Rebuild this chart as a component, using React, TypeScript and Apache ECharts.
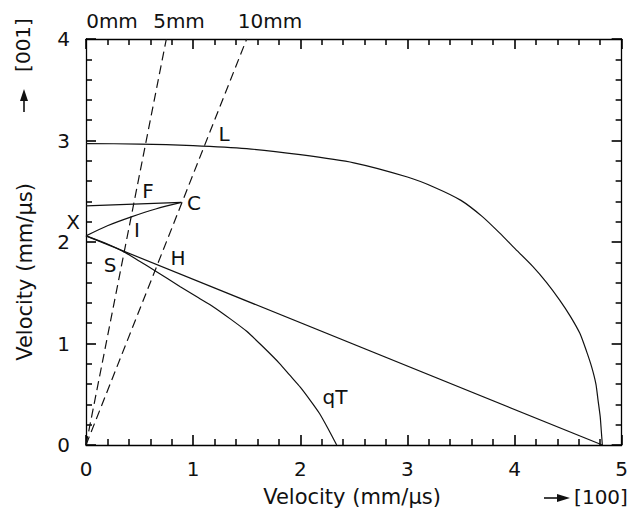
import React, { useEffect, useRef } from "react";
import * as echarts from "echarts";

const xTicks = [0, 1, 2, 3, 4, 5];
const yTicks = [0, 1, 2, 3, 4];

const curveL: [number, number][] = [
  [0, 2.97], [0.5, 2.965], [1.0, 2.95], [1.5, 2.92], [2.0, 2.86], [2.5, 2.78],
  [3.0, 2.64], [3.25, 2.54], [3.5, 2.41], [3.7, 2.25], [3.86, 2.09], [4.0, 1.94],
  [4.17, 1.76], [4.3, 1.6], [4.42, 1.43], [4.52, 1.27], [4.61, 1.1], [4.67, 0.93],
  [4.72, 0.77], [4.76, 0.6], [4.78, 0.44], [4.8, 0.28], [4.81, 0.14], [4.82, 0],
];
const lineTop: [number, number][] = [[0, 2.355], [0.89, 2.39]];
const curveXC: [number, number][] = [[0, 2.06], [0.2, 2.16], [0.43, 2.25], [0.65, 2.325], [0.89, 2.39]];
const lineXL: [number, number][] = [[0, 2.06], [4.82, 0]];
const curveQT: [number, number][] = [
  [0, 2.06], [0.2, 1.98], [0.36, 1.9], [0.5, 1.81], [0.64, 1.72], [0.88, 1.56],
  [1.05, 1.45], [1.19, 1.36], [1.35, 1.24], [1.5, 1.12], [1.65, 0.97], [1.81, 0.8],
  [1.9, 0.69], [2.0, 0.57], [2.1, 0.43], [2.18, 0.31], [2.26, 0.16], [2.34, 0],
];
const dash5: [number, number][] = [[0, 0], [0.75, 4]];
const dash10: [number, number][] = [[0, 0], [1.5, 4]];

const FONT = "DejaVu Sans";
const INK = "#000";

export default function App() {
  const ref = useRef<HTMLDivElement>(null);
  useEffect(() => {
    if (!ref.current) return;
    document.body.style.margin = "0";
    const chart = echarts.init(ref.current, undefined, { renderer: "svg" });
    const mk = () => ({
      min: 0,
      interval: 1,
      axisLine: { show: true, onZero: false, lineStyle: { color: INK, width: 1.3 } },
      axisTick: { show: true, inside: true, length: 10, lineStyle: { color: INK, width: 1.6 } },
      minorTick: { show: true, splitNumber: 5, length: 6, lineStyle: { color: INK, width: 1.5 } },
      splitLine: { show: false },
    });
    const lbl = (list: number[], margin: number) => ({
      color: "#111",
      fontFamily: FONT,
      fontSize: 20,
      margin,
      formatter: (v: number) => (list.includes(v) ? String(v) : ""),
    });
    const lineSeries = (data: [number, number][], smooth: number | boolean, dashed = false) => ({
      type: "line",
      data,
      smooth,
      showSymbol: false,
      lineStyle: { color: "#111", width: 1.2, type: dashed ? [9, 5] : "solid" },
    });
    const txt = (text: string, x: number, y: number, size = 20, rotation = 0) => ({
      type: "text",
      x,
      y,
      rotation,
      silent: true,
      style: {
        text,
        fill: "#111",
        font: `${size}px "${FONT}"`,
        align: "center",
        verticalAlign: "middle",
      },
    });
    chart.setOption({
      animation: false,
      grid: { left: 86, right: 9, top: 39, bottom: 76 },
      xAxis: [
        { ...mk(), type: "value", max: 5, position: "bottom", axisLabel: lbl(xTicks, 14) },
        { ...mk(), type: "value", max: 5, position: "top", axisLabel: { show: false } },
      ],
      yAxis: [
        { ...mk(), type: "value", max: 4, position: "left", axisLabel: lbl(yTicks, 16) },
        { ...mk(), type: "value", max: 4, position: "right", axisLabel: { show: false } },
      ],
      series: [
        lineSeries(curveL, 0.2),
        lineSeries(lineTop, false),
        lineSeries(curveXC, 0.3),
        lineSeries(lineXL, false),
        lineSeries(curveQT, 0.2),
        lineSeries(dash5, false, true),
        lineSeries(dash10, false, true),
      ],
      graphic: [
        txt("0mm", 112, 21),
        txt("5mm", 179, 21),
        txt("10mm", 270, 21),
        txt("L", 224, 134),
        txt("F", 148, 191),
        txt("C", 194, 203),
        txt("X", 73, 222),
        txt("I", 137, 230),
        txt("S", 110, 265),
        txt("H", 178, 258),
        txt("qT", 335, 397),
        txt("Velocity (mm/μs)", 352, 497, 21),
        txt("Velocity (mm/μs)", 25, 272, 21, Math.PI / 2),
        txt("[001]", 23, 45, 20, Math.PI / 2),
        txt("[100]", 601, 497, 20),
        {
          type: "line",
          silent: true,
          shape: { x1: 24, y1: 112, x2: 24, y2: 98 },
          style: { stroke: "#111", lineWidth: 1.6 },
        },
        {
          type: "polygon",
          silent: true,
          shape: { points: [[24, 89], [20, 101], [28, 101]] },
          style: { fill: "#111" },
        },
        {
          type: "line",
          silent: true,
          shape: { x1: 544, y1: 498, x2: 560, y2: 498 },
          style: { stroke: "#111", lineWidth: 1.6 },
        },
        {
          type: "polygon",
          silent: true,
          shape: { points: [[570, 498], [557, 494], [557, 502]] },
          style: { fill: "#111" },
        },
      ],
    });
    return () => chart.dispose();
  }, []);
  return <div ref={ref} style={{ width: 631, height: 521 }} />;
}
